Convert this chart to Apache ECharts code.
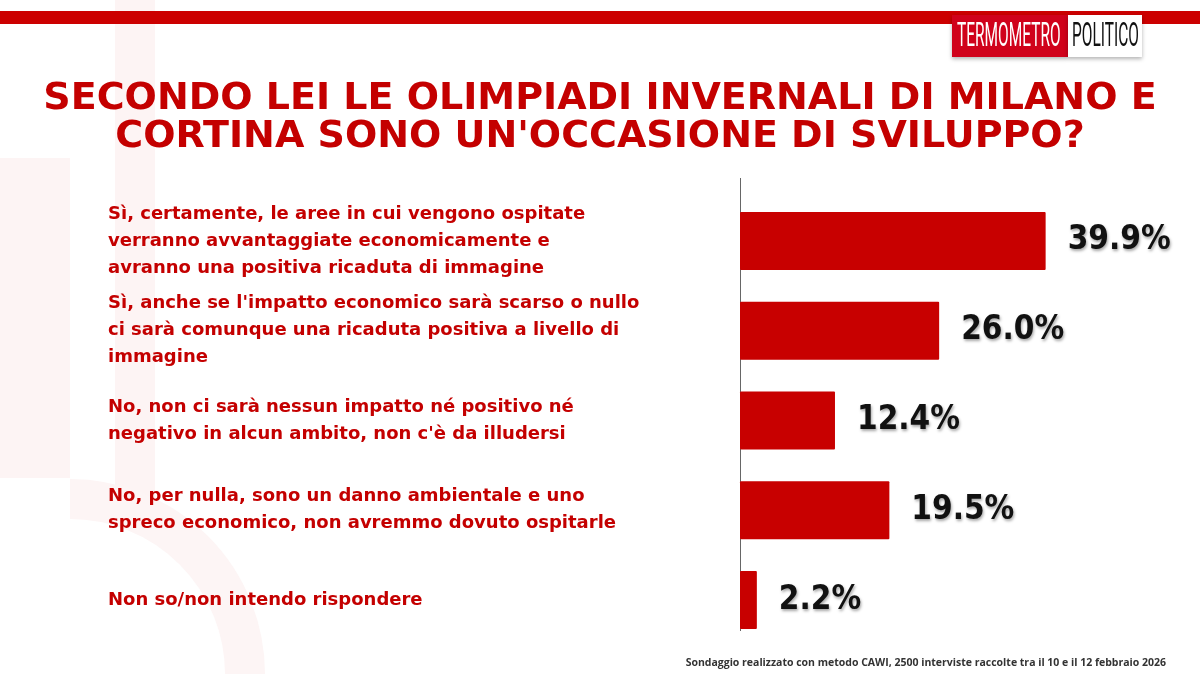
<!DOCTYPE html>
<html>
<head>
<meta charset="utf-8">
<script src="https://cdn.jsdelivr.net/npm/echarts@6/dist/echarts.min.js"></script>
<style>
  html, body { margin: 0; padding: 0; background: #fff; }
  #main { width: 1200px; height: 674px; }
</style>
</head>
<body>
<div id="main"></div>
<script>
  // risposte del sondaggio (dall'alto in basso)
  var risposte = [
    "Sì, certamente, le aree in cui vengono ospitate\nverranno avvantaggiate economicamente e\navranno una positiva ricaduta di immagine",
    "Sì, anche se l'impatto economico sarà scarso o nullo\nci sarà comunque una ricaduta positiva a livello di\nimmagine",
    "No, non ci sarà nessun impatto né positivo né\nnegativo in alcun ambito, non c'è da illudersi",
    "No, per nulla, sono un danno ambientale e uno\nspreco economico, non avremmo dovuto ospitarle",
    "Non so/non intendo rispondere"
  ];
  var percentuali = [39.9, 26.0, 12.4, 19.5, 2.2];

  var titolo = "SECONDO LEI LE OLIMPIADI INVERNALI DI MILANO E\nCORTINA SONO UN'OCCASIONE DI SVILUPPO?";
  var nota = "Sondaggio realizzato con metodo CAWI, 2500 interviste raccolte tra il 10 e il 12 febbraio 2026";

  var rosso = '#c40000';
  var narrow = '"DejaVu Sans Condensed", "Liberation Sans Narrow", Roboto, sans-serif';

  var chart = echarts.init(document.getElementById('main'));

  var option = {
    backgroundColor: '#ffffff',
    animation: false,
    title: {
      text: titolo,
      left: 'center',
      top: 75,
      textStyle: {
        fontFamily: 'DejaVu Sans',
        fontWeight: 'bold',
        fontSize: 38,
        lineHeight: 38,
        color: rosso
      }
    },
    grid: {
      left: 740,
      right: 77,
      top: 196,
      bottom: 29
    },
    xAxis: {
      type: 'value',
      min: 0,
      max: 50,
      show: false
    },
    yAxis: {
      type: 'category',
      inverse: true,
      data: risposte,
      axisLine: { show: false },
      axisTick: { show: false },
      axisLabel: {
        align: 'left',
        margin: 632,
        fontFamily: 'DejaVu Sans',
        fontWeight: 'bold',
        fontSize: 18,
        lineHeight: 27,
        color: rosso
      }
    },
    series: [{
      type: 'bar',
      data: percentuali,
      barWidth: 58,
      itemStyle: { color: '#c80000', borderRadius: 1 },
      label: {
        show: true,
        position: 'right',
        distance: 22,
        formatter: function (p) { return p.value.toFixed(1) + '%'; },
        fontFamily: narrow,
        fontWeight: 'bold',
        fontSize: 33,
        color: '#111',
        textShadowColor: 'rgba(0,0,0,0.35)',
        textShadowBlur: 3,
        textShadowOffsetX: 1,
        textShadowOffsetY: 2
      }
    }],
    graphic: [
      // filigrana chiara sullo sfondo
      { type: 'rect', z: -10, shape: { x: 115, y: 0, width: 40, height: 500 }, style: { fill: '#fdf4f4' } },
      { type: 'rect', z: -10, shape: { x: 0, y: 158, width: 70, height: 320 }, style: { fill: '#fdf4f4' } },
      { type: 'arc', z: -10, shape: { cx: 70, cy: 674, r: 175, startAngle: -Math.PI / 2, endAngle: 0 }, style: { stroke: '#fdf5f5', lineWidth: 40, fill: null } },
      // asse verticale
      { type: 'line', shape: { x1: 740.5, y1: 178, x2: 740.5, y2: 631 }, style: { stroke: '#666', lineWidth: 1 } },
      // barra rossa in alto
      { type: 'rect', shape: { x: 0, y: 11, width: 1200, height: 13 }, style: { fill: '#cc0000' } },
      // logo
      { type: 'rect', shape: { x: 952, y: 15, width: 116, height: 42 }, style: { fill: '#d0021b', shadowColor: 'rgba(0,0,0,0.3)', shadowBlur: 4, shadowOffsetY: 2 } },
      { type: 'rect', shape: { x: 1068, y: 15, width: 74, height: 42 }, style: { fill: '#ffffff', shadowColor: 'rgba(0,0,0,0.3)', shadowBlur: 4, shadowOffsetY: 2 } },
      { type: 'text', x: 957, y: 37, scaleX: 0.455, style: { text: 'TERMOMETRO', fill: '#ffffff', font: '34px Roboto', verticalAlign: 'middle' } },
      { type: 'text', x: 1072, y: 37, scaleX: 0.455, style: { text: 'POLITICO', fill: '#111111', font: '34px Roboto', verticalAlign: 'middle' } },
      // nota metodologica
      { type: 'text', right: 34, top: 658, style: { text: nota, fill: '#333', font: 'bold 10.5px "Open Sans"' } }
    ]
  };

  chart.setOption(option);
</script>
</body>
</html>
